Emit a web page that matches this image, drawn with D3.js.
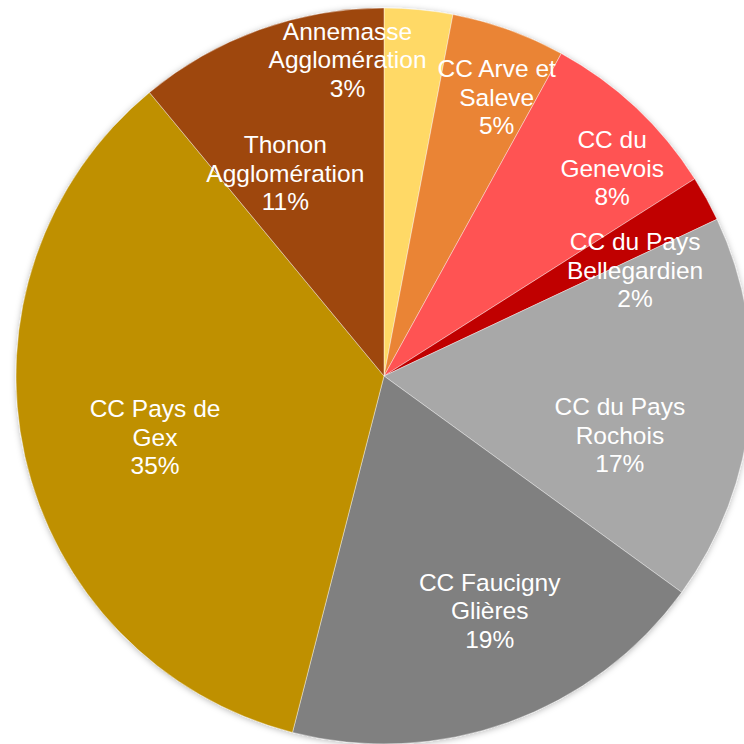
<!DOCTYPE html>
<html>
<head>
<meta charset="utf-8">
<script src="https://cdn.jsdelivr.net/npm/d3@7"></script>
<style>
  html, body { margin: 0; padding: 0; background: #ffffff; }
  svg { display: block; }
</style>
</head>
<body>
<svg id="chart" width="744" height="744"></svg>
<script>
// Share of each intercommunal body (percent), clockwise from 12 o'clock
const categories = [
  ["Annemasse", "Agglomération"],
  ["CC Arve et", "Saleve"],
  ["CC du", "Genevois"],
  ["CC du Pays", "Bellegardien"],
  ["CC du Pays", "Rochois"],
  ["CC Faucigny", "Glières"],
  ["CC Pays de", "Gex"],
  ["Thonon", "Agglomération"]
];
const shares = [3, 5, 8, 2, 17, 19, 35, 11];
const percentLabels = ["3%", "5%", "8%", "2%", "17%", "19%", "35%", "11%"];

// Styling and layout
const sliceColors = ["#FFD966", "#EA8434", "#FF5252", "#C00000", "#A8A8A8", "#808080", "#BF9000", "#9E470F"];
const labelNudge = [[-60, -68], [28, -44], [57, -26], [32, 14], [-13, 35], [21, -1], [15, 6], [-14, 32]];
const cx = 384, cy = 376, radius = 368, labelRadius = 250, lineGap = 28.5;

const svg = d3.select("#chart");

const defs = svg.append("defs");
const shadow = defs.append("filter").attr("id", "soft-shadow")
  .attr("x", "-10%").attr("y", "-10%").attr("width", "120%").attr("height", "120%");
shadow.append("feDropShadow")
  .attr("dx", 0).attr("dy", 1).attr("stdDeviation", 3)
  .attr("flood-color", "#000").attr("flood-opacity", 0.28);

const pie = d3.pie().value(d => d).sort(null);
const arcs = pie(shares);
const arcGen = d3.arc().innerRadius(0).outerRadius(radius);
const labelArc = d3.arc().innerRadius(labelRadius).outerRadius(labelRadius);

const g = svg.append("g").attr("transform", `translate(${cx},${cy})`);

g.append("g").attr("filter", "url(#soft-shadow)")
  .selectAll("path")
  .data(arcs)
  .join("path")
  .attr("d", arcGen)
  .attr("fill", (d, i) => sliceColors[i])
  .attr("stroke", "#ffffff")
  .attr("stroke-opacity", 0.5)
  .attr("stroke-width", 0.8);

const labels = g.append("g")
  .attr("font-family", "'Liberation Sans', Arial, sans-serif")
  .attr("font-size", 24.5)
  .attr("fill", "#ffffff")
  .attr("text-anchor", "middle");

arcs.forEach((a, i) => {
  const [x, y] = labelArc.centroid(a);
  const lx = x + labelNudge[i][0], ly = y + labelNudge[i][1];
  const lines = [...categories[i], percentLabels[i]];
  const t = labels.append("text")
    .attr("x", lx)
    .attr("y", ly)
    .attr("dominant-baseline", "central");
  lines.forEach((line, k) => {
    t.append("tspan")
      .attr("x", lx)
      .attr("y", ly + (k - 1) * lineGap)
      .text(line);
  });
});
</script>
</body>
</html>
